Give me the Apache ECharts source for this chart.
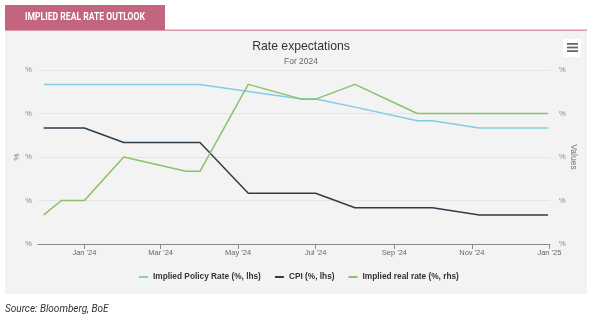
<!DOCTYPE html>
<html>
<head>
<meta charset="utf-8">
<script src="https://cdn.jsdelivr.net/npm/echarts@6/dist/echarts.min.js"></script>
<style>
html,body{margin:0;padding:0;background:#fff;}
#c{width:600px;height:326px;}
</style>
</head>
<body>
<div id="c"></div>
<script>
// ---- data ----
var dates = ['2023-11-30','2023-12-14','2024-01-01','2024-02-01','2024-03-21','2024-04-01','2024-05-09','2024-06-20','2024-07-01','2024-08-01','2024-09-19','2024-10-01','2024-11-07','2024-12-31'];
var policyRate = [5.5, 5.5, 5.5, 5.5, 5.5, 5.5, 5.26, 5.0, 5.0, 4.72, 4.25, 4.25, 4.0, 4.0];
var cpi        = [4.0, 4.0, 4.0, 3.5, 3.5, 3.5, 1.75, 1.75, 1.75, 1.25, 1.25, 1.25, 1.0, 1.0];
var realRate   = [0.67, 1.0, 1.0, 2.0, 1.67, 1.67, 3.67, 3.33, 3.33, 3.67, 3.0, 3.0, 3.0, 3.0];
var tickDates  = ['2024-01-01','2024-03-01','2024-05-01','2024-07-01','2024-09-01','2024-11-01','2025-01-01'];
var seriesNames = ['Implied Policy Rate (%, lhs)', 'CPI (%, lhs)', 'Implied real rate (%, rhs)'];

function ts(s){ var p = s.split('-'); return Date.UTC(+p[0], +p[1]-1, +p[2]); }
function pairs(vals){ return dates.map(function(d,i){ return [ts(d), vals[i]]; }); }
var MON = ['Jan','Feb','Mar','Apr','May','Jun','Jul','Aug','Sep','Oct','Nov','Dec'];
function fmtDate(v){ var d = new Date(v); return MON[d.getUTCMonth()] + " '" + String(d.getUTCFullYear()).slice(2); }

var chart = echarts.init(document.getElementById('c'), null, {renderer:'canvas'});
var font = '"Liberation Sans", Arial, sans-serif';
var hfont = 'Roboto, "Liberation Sans", sans-serif';
chart.setOption({
  animation:false,
  textStyle:{fontFamily:font},
  graphic:[
    {type:'rect', z:-10, shape:{x:5,y:31,width:582,height:263}, style:{fill:'#f3f3f3'}},
    {type:'rect', z:-9, shape:{x:5,y:29.5,width:582,height:1.5}, style:{fill:'#d99aad'}},
    {type:'rect', z:-8, shape:{x:5,y:5,width:160,height:25}, style:{fill:'#c4657f'}},
    {type:'text', z:-7, x:25, y:17.5, scaleX:0.86, style:{text:'IMPLIED REAL RATE OUTLOOK', fill:'#fff', font:'bold 10px ' + hfont, textVerticalAlign:'middle'}},
    {type:'rect', z:5, shape:{x:563,y:39,width:18,height:18}, style:{fill:'#ffffff'}},
    {type:'rect', z:6, shape:{x:567,y:43,width:11,height:1.8}, style:{fill:'#666'}},
    {type:'rect', z:6, shape:{x:567,y:46.6,width:11,height:1.8}, style:{fill:'#666'}},
    {type:'rect', z:6, shape:{x:567,y:50.2,width:11,height:1.8}, style:{fill:'#666'}},
    {type:'text', x:5, y:309, style:{text:'Source: Bloomberg, BoE', fill:'#333', font:'italic 10px ' + hfont, textVerticalAlign:'middle'}}
  ],
  title:{
    text:'Rate expectations', subtext:'For 2024',
    left:296, top:36, textAlign:'center', itemGap:4,
    textStyle:{fontSize:12.2, fontWeight:'normal', color:'#333', fontFamily:font},
    subtextStyle:{fontSize:8.5, color:'#666', fontFamily:font}
  },
  legend:{
    data:seriesNames, left:134, top:268, itemGap:14, itemWidth:9, itemHeight:2,
    icon:'rect',
    textStyle:{fontSize:8.3, fontWeight:'bold', color:'#333', fontFamily:font}
  },
  grid:{left:38, right:50, top:70, bottom:82},
  xAxis:{
    type:'value',
    min: Date.UTC(2023,10,25,12), max: Date.UTC(2025,0,1,12),
    axisLine:{lineStyle:{color:'#8a8a8a', width:1}},
    axisTick:{show:true, length:5, lineStyle:{color:'#8a8a8a'}, customValues: tickDates.map(ts)},
    axisLabel:{color:'#666', fontSize:7.5, margin:5, customValues: tickDates.map(ts), formatter:function(v){return fmtDate(v);}},
    splitLine:{show:false}
  },
  yAxis:[
    {type:'value', min:0, max:6, interval:1.5, position:'left',
     name:'%', nameLocation:'middle', nameGap:17, nameRotate:90, nameMoveOverlap:false,
     nameTextStyle:{color:'#777', fontSize:8},
     axisLine:{show:false}, axisTick:{show:false},
     axisLabel:{formatter:function(){return '%';}, color:'#888', fontSize:7.5, margin:6},
     splitLine:{lineStyle:{color:'#e4e4e4', width:1}}},
    {type:'value', min:0, max:4, interval:1, position:'right',
     name:'Values', nameLocation:'middle', nameGap:19, nameRotate:-90, nameMoveOverlap:false,
     nameTextStyle:{color:'#777', fontSize:8.5},
     axisLine:{show:false}, axisTick:{show:false},
     axisLabel:{formatter:function(){return '%';}, color:'#888', fontSize:7.5, margin:9},
     splitLine:{show:false}}
  ],
  series:[
    {name:seriesNames[0], type:'line', yAxisIndex:0, data:pairs(policyRate), showSymbol:false, symbol:'none',
     lineStyle:{color:'#82cbe3', width:1.5}, itemStyle:{color:'#82cbe3'}},
    {name:seriesNames[1], type:'line', yAxisIndex:0, data:pairs(cpi), showSymbol:false, symbol:'none',
     lineStyle:{color:'#2e3d4a', width:1.5}, itemStyle:{color:'#2e3d4a'}},
    {name:seriesNames[2], type:'line', yAxisIndex:1, data:pairs(realRate), showSymbol:false, symbol:'none',
     lineStyle:{color:'#88c26a', width:1.5}, itemStyle:{color:'#88c26a'}}
  ]
});
</script>
</body>
</html>
